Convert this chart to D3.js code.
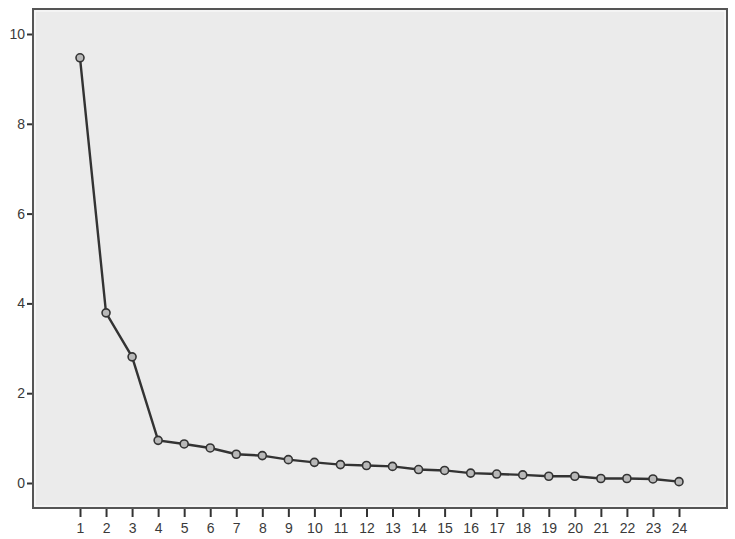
<!DOCTYPE html>
<html><head><meta charset="utf-8">
<script src="https://cdn.jsdelivr.net/npm/d3@7"></script>
<style>body{margin:0;background:#fff}svg{display:block}</style>
</head><body>
<svg id="c" width="735" height="539"></svg>
<script>
const components = d3.range(1, 25);
const eigenvalues = [9.47, 3.79, 2.81, 0.95, 0.87, 0.78, 0.64, 0.61, 0.52, 0.46, 0.41, 0.39, 0.37, 0.30, 0.28, 0.22, 0.20, 0.18, 0.15, 0.15, 0.10, 0.10, 0.09, 0.03];
const yTicks = [0, 2, 4, 6, 8, 10];

const svg = d3.select("#c");
const frame = {l: 33, t: 9, r: 727, b: 508};
const x = d3.scaleLinear().domain([1, 24]).range([80, 679]);
const y = d3.scaleLinear().domain([0, 10]).range([483, 34]);

svg.append("rect").attr("x", frame.l).attr("y", frame.t)
  .attr("width", frame.r - frame.l).attr("height", frame.b - frame.t)
  .attr("fill", "#ebebeb").attr("stroke", "#555").attr("stroke-width", 2);
svg.append("rect").attr("x", frame.l + 2).attr("y", frame.t + 2)
  .attr("width", frame.r - frame.l - 4).attr("height", frame.b - frame.t - 4)
  .attr("fill", "none").attr("stroke", "#fafafa").attr("stroke-width", 1.2);

const yAxis = d3.axisLeft(y).tickValues(yTicks).tickSize(5).tickPadding(2);
const gy = svg.append("g").attr("transform", `translate(${frame.l - 1},0)`).call(yAxis);
gy.select(".domain").remove();
gy.selectAll("line").attr("stroke", "#333").attr("stroke-width", 2);
gy.selectAll("text").attr("fill", "#3a3a3a").attr("font-size", 14)
  .attr("font-family", "Arial, 'Liberation Sans', sans-serif");

const xAxis = d3.axisBottom(x).tickValues(components).tickSize(8).tickPadding(6);
const gx = svg.append("g").attr("transform", `translate(0,${frame.b + 1})`).call(xAxis);
gx.select(".domain").remove();
gx.selectAll("line").attr("stroke", "#333").attr("stroke-width", 2);
gx.selectAll("text").attr("fill", "#3a3a3a").attr("font-size", 14)
  .attr("font-family", "Arial, 'Liberation Sans', sans-serif");

const data = components.map((c, i) => ({c, v: eigenvalues[i]}));
svg.append("path").datum(data)
  .attr("fill", "none").attr("stroke", "#333").attr("stroke-width", 2.4)
  .attr("d", d3.line().x(d => x(d.c)).y(d => y(d.v)));
svg.selectAll("circle.pt").data(data).join("circle")
  .attr("class", "pt").attr("cx", d => x(d.c)).attr("cy", d => y(d.v)).attr("r", 4)
  .attr("fill", "#b8b8b8").attr("stroke", "#333").attr("stroke-width", 1.6);
</script>
</body></html>
